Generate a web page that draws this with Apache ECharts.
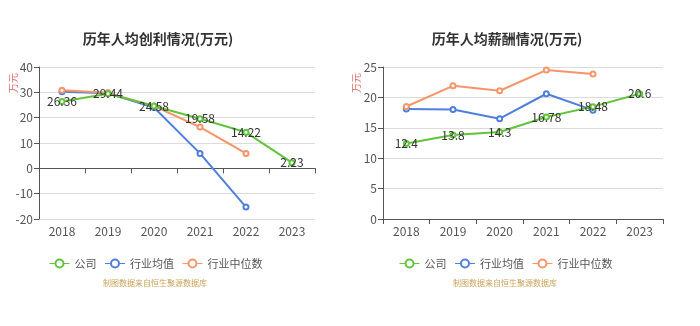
<!DOCTYPE html>
<html>
<head>
<meta charset="utf-8">
<script src="https://cdn.jsdelivr.net/npm/echarts@6/dist/echarts.min.js"></script>
<style>
html,body{margin:0;padding:0;background:#fff;}
#chart{width:700px;height:326px;}
</style>
</head>
<body>
<div id="chart"></div>
<script>
// Categories (years)
const years = ['2018', '2019', '2020', '2021', '2022', '2023'];
const seriesNames = ['公司', '行业均值', '行业中位数'];

// 历年人均创利 (万元)
const profitCompany = [26.36, 29.44, 24.58, 19.58, 14.22, 2.23];
const profitIndustryAvg = [30.2, 29.6, 24.0, 5.9, -15.3, null];
const profitIndustryMedian = [30.8, 29.8, 24.6, 16.3, 5.9, null];

// 历年人均薪酬 (万元)
const salaryCompany = [12.4, 13.8, 14.3, 16.78, 18.48, 20.6];
const salaryIndustryAvg = [18.1, 18.0, 16.5, 20.6, 17.9, null];
const salaryIndustryMedian = [18.5, 21.9, 21.1, 24.5, 23.85, null];

const profitTicks = { min: -20, max: 40, interval: 10 };
const salaryTicks = { min: 0, max: 25, interval: 5 };

const colors = ['#62c43c', '#4f7fdd', '#f5956a'];
const FONT = '"Noto Sans CJK SC", "Noto Sans", sans-serif';

const chart = echarts.init(document.getElementById('chart'));

function lineSeries(name, data, xIdx, yIdx, color, withLabel) {
  return {
    name: name,
    type: 'line',
    xAxisIndex: xIdx,
    yAxisIndex: yIdx,
    data: data,
    symbol: 'emptyCircle',
    symbolSize: 5,
    connectNulls: false,
    lineStyle: { width: 2, color: color },
    itemStyle: { color: color, borderWidth: 1.2 },
    label: withLabel ? {
      show: true,
      position: 'inside',
      color: '#333',
      fontSize: 12,
      fontFamily: FONT
    } : { show: false },
    z: withLabel ? 3 : 2
  };
}

function valueAxis(gridIndex, ticks) {
  return {
    type: 'value',
    gridIndex: gridIndex,
    min: ticks.min,
    max: ticks.max,
    interval: ticks.interval,
    axisLine: { show: true, lineStyle: { color: '#555', width: 1 } },
    axisTick: { show: true, length: 5, lineStyle: { color: '#555' } },
    axisLabel: { color: '#555', fontSize: 12, fontFamily: FONT, margin: 6 },
    splitLine: { show: true, lineStyle: { color: '#dcdcdc', width: 1 } }
  };
}

function labelAxis(gridIndex) {
  return {
    type: 'category',
    gridIndex: gridIndex,
    data: years,
    boundaryGap: true,
    position: 'bottom',
    axisLine: { show: false, onZero: false },
    axisTick: { show: false },
    axisLabel: { color: '#555', fontSize: 12, fontFamily: FONT, margin: 6 },
    splitLine: { show: false }
  };
}

function zeroAxis(gridIndex) {
  return {
    type: 'category',
    gridIndex: gridIndex,
    data: years,
    boundaryGap: true,
    position: 'bottom',
    axisLine: { show: true, onZero: true, lineStyle: { color: '#555', width: 1 } },
    axisTick: { show: true, length: 5, lineStyle: { color: '#555' } },
    axisLabel: { show: false },
    splitLine: { show: false }
  };
}

const legendCommon = {
  data: seriesNames,
  itemWidth: 20,
  itemHeight: 10,
  itemGap: 8,
  lineStyle: { width: 1 },
  itemStyle: { borderWidth: 1 },
  textStyle: { color: '#555', fontSize: 11, fontFamily: FONT }
};

chart.setOption({
  animation: false,
  backgroundColor: '#fff',
  color: colors,
  title: [
    {
      text: '历年人均创利情况(万元)',
      left: 153, top: 27, textAlign: 'center',
      textStyle: { fontSize: 14, fontWeight: 'bold', color: '#333', fontFamily: FONT }
    },
    {
      text: '历年人均薪酬情况(万元)',
      left: 502, top: 27, textAlign: 'center',
      textStyle: { fontSize: 14, fontWeight: 'bold', color: '#333', fontFamily: FONT }
    }
  ],
  legend: [
    Object.assign({ left: 44, top: 253 }, legendCommon),
    Object.assign({ left: 394, top: 253 }, legendCommon)
  ],
  grid: [
    { left: 39, right: 385, top: 67, bottom: 107 },
    { left: 383, right: 37, top: 67, bottom: 107 }
  ],
  xAxis: [labelAxis(0), zeroAxis(0), labelAxis(1), zeroAxis(1)],
  yAxis: [valueAxis(0, profitTicks), valueAxis(1, salaryTicks)],
  graphic: [
    {
      type: 'text', left: 8, top: 73, rotation: Math.PI / 2,
      style: { text: '万元', fill: '#e07070', fontSize: 10, fontFamily: FONT }
    },
    {
      type: 'text', left: 351, top: 73, rotation: Math.PI / 2,
      style: { text: '万元', fill: '#e07070', fontSize: 10, fontFamily: FONT }
    },
    {
      type: 'text', left: 103, top: 279,
      style: { text: '制图数据来自恒生聚源数据库', fill: '#c9a35a', fontSize: 8, fontFamily: FONT }
    },
    {
      type: 'text', left: 453, top: 279,
      style: { text: '制图数据来自恒生聚源数据库', fill: '#c9a35a', fontSize: 8, fontFamily: FONT }
    }
  ],
  series: [
    lineSeries(seriesNames[0], profitCompany, 0, 0, colors[0], true),
    lineSeries(seriesNames[1], profitIndustryAvg, 0, 0, colors[1], false),
    lineSeries(seriesNames[2], profitIndustryMedian, 0, 0, colors[2], false),
    lineSeries(seriesNames[0], salaryCompany, 2, 1, colors[0], true),
    lineSeries(seriesNames[1], salaryIndustryAvg, 2, 1, colors[1], false),
    lineSeries(seriesNames[2], salaryIndustryMedian, 2, 1, colors[2], false)
  ]
});
</script>
</body>
</html>
